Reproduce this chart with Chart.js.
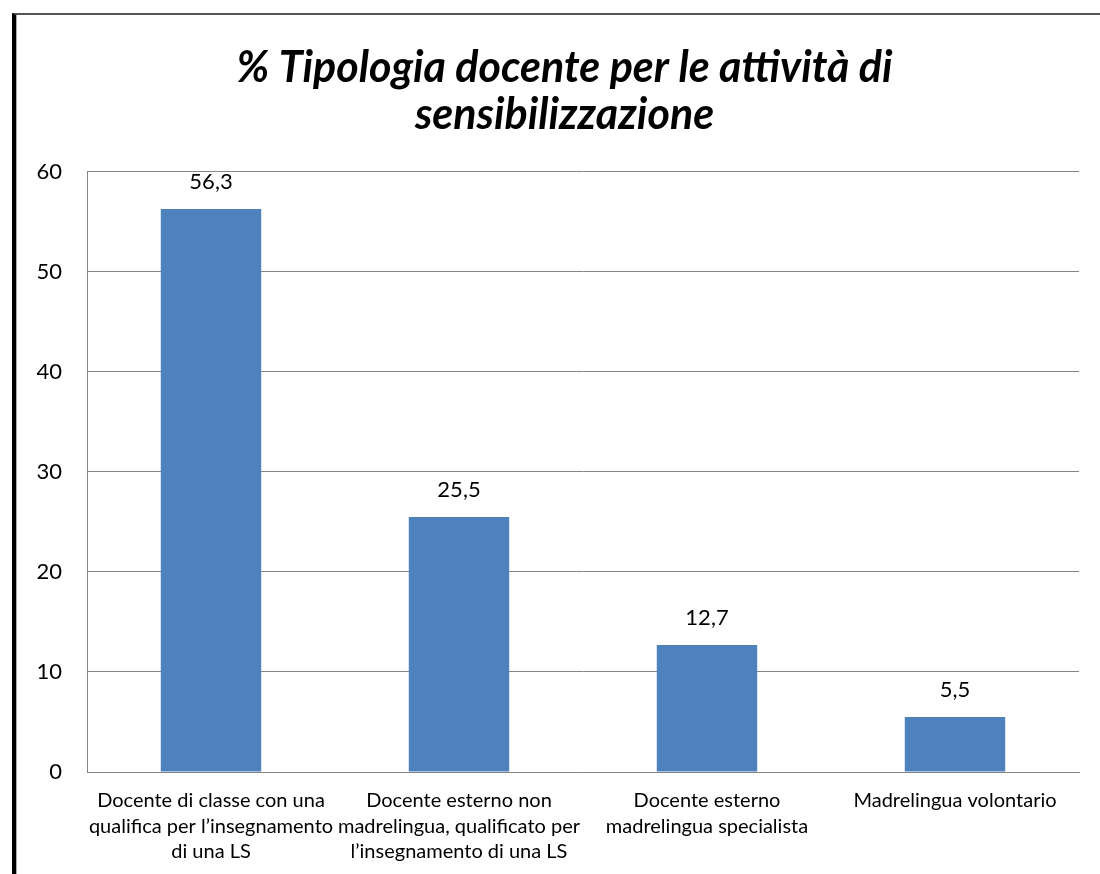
<!DOCTYPE html>
<html>
<head>
<meta charset="utf-8">
<script src="https://cdn.jsdelivr.net/npm/chart.js"></script>
<style>
  body { margin: 0; background: #fff; }
  #wrap { position: relative; width: 1100px; height: 874px; }
  #frame { position: absolute; left: 12px; top: 13px; right: 0; bottom: 0;
           border-left: 4px solid #000; border-top: 2px solid #555; pointer-events: none; }
  #frame:after { content: ""; position: absolute; left: 0; top: 0; bottom: 0; border-left: 1px solid #aaa; }
</style>
</head>
<body>
<div id="wrap">
  <canvas id="myChart" width="1100" height="874"></canvas>
  <div id="frame"></div>
</div>
<script>
var titleLines = ["% Tipologia docente per le attività di", "sensibilizzazione"];
var categories = [
    ["Docente di classe con una", "qualifica per l\u2019insegnamento", "di una LS"],
    ["Docente esterno non", "madrelingua, qualificato per", "l\u2019insegnamento di una LS"],
    ["Docente esterno", "madrelingua specialista"],
    ["Madrelingua volontario"]
];
var values = [56.3, 25.5, 12.7, 5.5];
var yTicks = [0, 10, 20, 30, 40, 50, 60];

var font = "Lato";

// value labels above bars, italian decimal comma
var barLabels = {
    id: 'barLabels',
    afterLayout: function (chart) {
        // title sits a bit right of the canvas centre, like the original
        chart.titleBlock.left = 50;
    },
    afterDatasetsDraw: function (chart) {
        var ctx = chart.ctx;
        var meta = chart.getDatasetMeta(0);
        ctx.save();
        ctx.font = "22px " + font;
        ctx.fillStyle = "#000";
        ctx.textAlign = "center";
        ctx.textBaseline = "middle";
        meta.data.forEach(function (bar, i) {
            ctx.fillText(values[i].toFixed(1).replace(".", ","), bar.x, bar.y - 27);
        });
        ctx.restore();
    }
};

var ctx = document.getElementById("myChart");
var myBarChart = new Chart(ctx, {
    type: 'bar',
    data: {
        labels: categories,
        datasets: [{
            data: values,
            backgroundColor: "#4f81bd",
            barPercentage: 0.405,
            categoryPercentage: 1
        }]
    },
    options: {
        responsive: false,
        animation: false,
        layout: { padding: { top: 0, right: 21, bottom: 0, left: 0 } },
        plugins: {
            legend: { display: false },
            tooltip: { enabled: false },
            title: {
                display: true,
                text: titleLines,
                color: "#000",
                font: { family: font, size: 43, weight: 'bold', style: 'italic', lineHeight: 1.093 },
                padding: { top: 45, bottom: 33 }
            }
        },
        scales: {
            x: {
                afterFit: function (scale) { scale.height = 102; },
                grid: { display: false, drawTicks: false },
                border: { color: "#868686", width: 1 },
                ticks: {
                    color: "#000",
                    font: { family: font, size: 20, lineHeight: 1.28 },
                    padding: 16,
                    maxRotation: 0,
                    autoSkip: false
                }
            },
            y: {
                min: 0,
                max: 60,
                afterFit: function (scale) { scale.width = 87; },
                afterBuildTicks: function (scale) {
                    scale.ticks = yTicks.map(function (v) { return { value: v }; });
                },
                grid: { color: "#868686", drawTicks: false },
                border: { color: "#868686", width: 1 },
                ticks: {
                    color: "#000",
                    font: { family: font, size: 22 },
                    padding: 25
                }
            }
        }
    },
    plugins: [barLabels]
});
</script>
</body>
</html>
